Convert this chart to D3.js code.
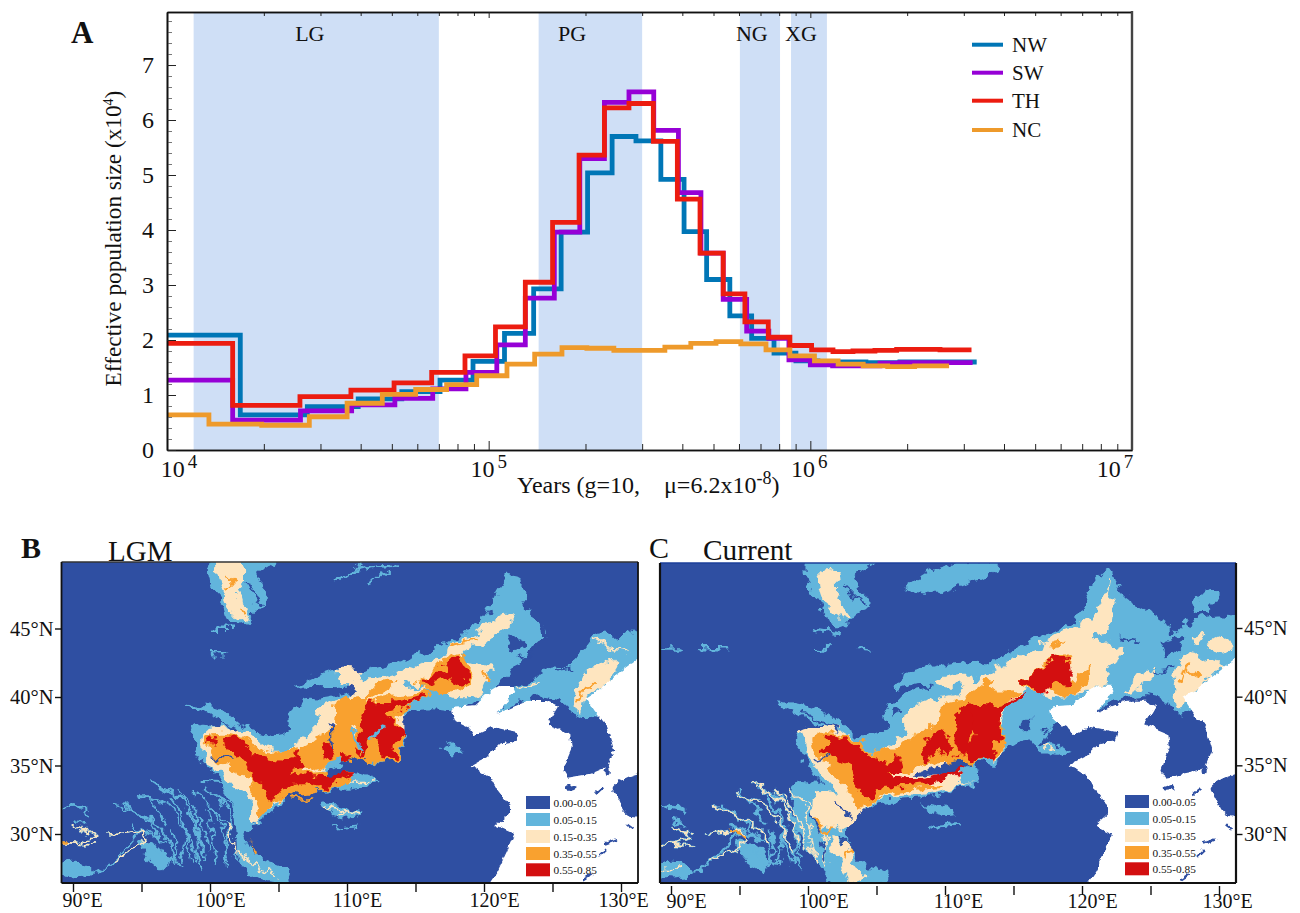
<!DOCTYPE html>
<html><head><meta charset="utf-8">
<script src="https://cdnjs.cloudflare.com/ajax/libs/d3/7.8.5/d3.min.js"></script>
<style>html,body{margin:0;background:#fff}svg{display:block}text{font-family:"Liberation Serif",serif;fill:#111}</style>
</head><body><svg id="c" width="1300" height="913"></svg>
<script>
// ---------- Panel A data (years in thousands, Ne in x10^4) ----------
const seriesNames=["NW","SW","TH","NC"];
const seriesColors=["#0076b6","#9600d6","#ec1c10","#ee9a2b"];
const nwYears=[10,16.9,27.3,39.3,53.7,70.6,89.4,112,138,168,203,242,287,343,405,476,562,657,771,902,1056,1245,1489,1899,3290];
const nwNe=[2.09,.64,.79,.93,1.06,1.27,1.61,2.12,2.93,3.96,5.04,5.70,5.62,4.92,3.97,3.10,2.44,2.03,1.76,1.62,1.60,1.60,1.59,1.60,1.60];
const swYears=[10,16,26,37.5,51.1,67,85,106,130,160,192,229,273,326,389,457,536,634,743,858,1000,1173,1396,1646,1899,3195];
const swNe=[1.27,.545,.71,.82,.94,1.11,1.41,1.91,2.76,3.96,5.30,6.32,6.51,5.81,4.68,3.58,2.74,2.16,2.03,1.64,1.55,1.53,1.53,1.58,1.59,1.59];
const thYears=[10,16,25.9,37.3,50.8,66.5,84.4,105,130,158,191,229,273,325,386,454,536,626,740,864,1009,1176,1357,1588,1855,2530,3170];
const thNe=[1.94,.81,.97,1.09,1.22,1.41,1.71,2.24,3.05,4.14,5.36,6.22,6.30,5.61,4.56,3.58,2.84,2.33,2.05,1.90,1.82,1.79,1.80,1.81,1.83,1.82,1.82];
const ncYears=[10,13.5,19.7,27.7,36.3,46.7,59.3,74,91.8,114,139,169,202,245,299,353,425,509,608,728,864,1030,1220,1460,1740,2110,2700];
const ncNe=[.64,.47,.45,.605,.85,1.01,1.10,1.19,1.35,1.56,1.745,1.86,1.85,1.81,1.81,1.87,1.94,1.97,1.93,1.82,1.71,1.62,1.56,1.53,1.515,1.53,1.53];
const bandNames=["LG","PG","NG","XG"];
const bandStart=[12.1,143,604,871];
const bandEnd=[70,300,805,1126];
const bandLabelYears=[27.8,181.6,658,935];

// ---------- Map data: suitability zones as lon,lat rings ----------
const classLabels=["0.00-0.05","0.05-0.15","0.15-0.35","0.35-0.55","0.55-0.85"];
const classColors=["#2f4fa2","#62b5dc","#fee5bf","#f9a12f","#d30f10"];
const seaRing="117.6,39 117.9,39.3 119.3,39.4 120.2,40.2 121.2,40.8 122.1,40.8 122.3,40.4 121.6,39.5 121,38.8 122.2,39.3 123.2,39.7 124.6,39.7 125.4,39.3 125.1,38.8 124.6,38 125.6,37.6 126.3,37.3 126.4,36.3 126.1,35.6 125.8,34.6 126.1,34.1 127.8,34.4 129,34.9 129.5,36.1 129,37.8 128,39 127.4,39.9 128.3,40.5 129.7,41.6 131.8,43.2 131.8,25.8 120,25.8 121,27.3 121.7,28.8 122.2,30 120.9,30.6 121.9,31.5 121.9,32 121,33.2 120.5,34.1 119.1,35 120.2,35.6 121.2,36.6 122.4,36.8 122.6,37.4 121.2,37.7 120.5,37.8 119.3,37.2 118.9,37.8 117.8,38.3";
const japanRings=["131.8,34.4 129.4,33.4 129.7,32.7 130.5,31.4 131.8,31.5","126,33.4 126.7,33.55 126.7,33.25 126,33.2","128.8,34.6 129,35 129.1,34.5 128.9,34.3"];
const islandLines=["128.1,32.9 128.7,33.4","128.9,29.3 129.7,29.6","128.4,28.4 128.9,28.9","127.2,26.6 127.8,27","130.5,30.7 130.9,30.4"];
const lgmLight=[
"98.2,39.5 99.8,39.3 101.2,38.9 102.4,37.9 104.1,37.3 105.6,37.4 105.7,38.6 106.4,39.4 106.9,39.9 108.3,39.9 109.7,40.2 110.9,40.4 109.2,40.7 107.5,40.8 106.2,40.7 107.5,41.4 109.2,42 111,41.9 112.7,42.3 114.4,42.8 116,43.4 117.6,44.2 119.3,45.1 120.2,46.1 120.9,47.7 121.8,48.8 122.8,48.6 122.9,46.9 123.9,45.6 124.3,44.3 123.4,43.4 122.4,42.4 121.9,41.6 121.3,41 120.2,40 117.8,39 116.1,39.1 114.3,38.8 113.8,38 114.2,37.1 113.8,35.6 112.5,35.2 111.5,35.1 110.5,35.9 109.5,35.5 110.7,34.1 108.8,33.3 105.8,32.9 104.6,31.7 103.6,31 102.7,30.4 102.3,29.8 103,28.8 103.9,28.2 105.8,27.3 105.6,26.6 104.1,26.5 102.7,27.3 102.1,28.1 101.9,29.8 101.7,31.7 101.2,32.9 100.5,34.4 99.8,34.9 99,35.9 98.7,37.2 99.3,37.8 100.7,37.8 100.5,38.5 99.3,39",
"99.9,49.9 104.7,49.9 103.6,48.9 104.3,47.2 103.4,46.4 103,45.8 102.1,45.3 101.3,45.7 101,46.8 100.1,47.9 99.9,48.7",
"121,38.8 122.2,40.6 123.6,41.2 124.6,42.1 126.1,42.2 127.4,43.6 128.3,44.6 129.7,44.4 131.8,44.9 131.8,42.4 129,38.5 127.1,38.6 125.4,39.7 123.2,39.9",
"117,36.3 117.8,36.6 118.5,36.1 117.8,35.9",
"108.2,32.2 109.3,32.1 110.7,31.5 109.7,31.4 108.5,31.9",
"109.5,34.1 111,34.4 112.3,33.7 111,33.4 109.5,33.3",
"109.5,31.7 110.9,31.5 110.5,31.2 109.5,31.2",
"94.8,29.5 96.1,29.2 97.1,27.8 96.4,27.5 95.1,28.6",
"89.1,27.8 91,27.8 91.5,27.1 89.1,27"];
const lgmCream=[
"99.3,36.9 99.9,37.6 101,37.7 102.2,37.6 103.6,36.8 104.6,36.1 105.8,36.3 106.7,36.9 107.8,37.9 107.7,38.9 108.5,39.5 110,40.1 110.3,41 112,41.3 113.7,41.8 115.4,42.4 117.1,42.9 117.4,43.8 119.3,44.5 120.2,45.2 121.3,46.1 122.1,45.7 121.3,44.9 120.2,44 118.8,43.4 118.3,43 119.8,42.5 120.6,42.3 120.2,41.2 119.5,40.1 117.6,40 116.1,40.8 115.4,40 113.9,39.1 114,38.8 114,36.8 113.7,35.5 112.2,35.3 111.5,35.1 110.8,36.1 109.5,35.6 108,34.5 110.3,34 108.5,33.4 105.8,32.9 104.9,32.3 103.9,31.5 102.9,30.7 102.9,32.7 101.8,33.3 100.7,34.6 99.8,35.1 99.4,36.3",
"100.6,49 100.6,49.9 102.2,49.9 102.3,48 101.9,47.5 102.8,46.7 103,46.1 102.3,45.6 101.6,46.3 101.1,47.3",
"126.6,40.5 127.2,41.3 128.5,42.7 129.7,42.3 129,41.1 127.4,39.7 127.2,38.8 126.6,39.3",
"109.4,42.1 110.8,42 110.9,41.2 109.6,41"];
const lgmOrange=[
"99.5,37.1 100.5,37.3 101.9,37.2 103.6,36.3 104.6,36 105.8,36.3 106.6,35.6 106.8,34.6 110.2,34.6 110.3,34 108.5,33.3 106.1,32.9 104.6,32.2 103.9,31.5 103.2,32.9 102.7,34.1 100.5,35.4 100,36.3",
"106.3,35.6 107.3,36.7 109.2,37.8 109.9,37.3 110.8,36.9 110.9,35.2 109.5,35.4 107.5,34.6",
"109.5,39.6 110.9,40 110.9,37.8 110,38.3",
"109.5,39.9 111,40 112.7,41.1 113.6,41.1 112.9,40.4 111.6,39.9 111,38.8 110.3,38 110.8,36.1 109.5,35.6",
"111.1,39.3 112.2,39.9 114.2,40.2 116,40.4 114.3,39.1 113.7,38.4 114.1,36.9 113.7,35.5 112.2,35.2 111.5,35.1 110.6,36.1 110.8,38",
"115.1,41 116.1,41.8 117.1,42.7 118.5,43.1 119.1,41.9 118.6,40.8 117.3,40.2 116.1,40.5"];
const lgmRed=[
"99.8,37.1 100.5,36.9 100.2,36.6 99.9,36.7",
"101.1,36.9 101.9,37.1 102.7,36.5 103.4,35.8 104.9,35.4 106,35.4 106.3,35.9 106.7,34.8 106,34.5 107.2,34.3 110.5,34.4 109.5,34 108.3,33.4 106.6,33.7 105.6,33.4 104.6,32.5 103.9,33.1 102.9,34.1 102.7,35.1 101.7,36 101,36.3",
"111.1,38.8 111.6,39.6 112.7,39.7 113.8,39.7 115.7,40.2 114.2,39.2 112.8,38.8 113.2,38.3 113.9,37.8 114.1,37.2 113.4,36.3 113.6,35.6 112.6,35.6 112.4,36.6 111.7,36.9 111.2,35.7 111,36.1",
"115.4,41.2 116.1,41.6 117.4,42.4 118.1,43 118.3,42.3 118.9,41.6 118.4,41 117.3,41.3 116.6,41 116,40.8",
"108.3,36.6 109.1,36.3 108.6,35.1",
"109.6,35.9 110.2,35.7 109.7,35.4",
"110.6,36.3 110.9,36.2 110.9,35.7",
"109.5,35.9 110.3,35.6 109.5,35.4"];
const lgmDark=[
"108.3,34.6 109.5,34.9 110.6,35.4 111.3,35.6 111.5,35.1 110.9,34.7 109.7,34.4 108.5,34.2",
"121.7,44.4 122.9,43.9 122.2,43.4",
"109.5,40.6 110.6,40.6 110.6,40.4 109.5,40.4"];
const mongoliaSmall=["100.2,44.9 101.6,44.9","100.1,43.2 101.1,43.2","109.1,48.3 110,49 110.9,49.6","110.1,49.1 112,49.5 113.7,49.6","111.5,48.4 113.2,49.2"];
const swStreaks=["94.9,32.9 96.4,32.4 97.4,31.7 98.2,30.3 98.9,28.8 99.4,27.6","95.9,33.8 97.3,32.9 98.4,32 98.9,30.7 99.3,29.5 99.5,28.2","93.2,32 94.6,31.5 96,30.7 97.1,29.5 97.4,28.2","98.8,33.2 100,32.1 100.7,30.9 101.1,29.5 101.5,27.9","92.7,30 94.9,30.3 95.6,29.6 94.6,28.9 92.9,28 91.7,27.2","89.3,27.8 90.8,27.5 91.5,27.1","94.9,29 96.1,28.7 96.8,27.5","90.1,30.6 91.5,29.9 90.4,29.3","89.2,29.3 91.7,29.2","99.3,33.8 101.2,33.7 102.2,32.7","100.2,32 101.2,30.7 101.7,29.5 101.9,28.1","97.6,33.2 98.8,32 99.5,30.7 100,28.8","89.3,32 90.5,32.1 91.2,31.5","98.3,30.3 97.8,28.1",
"95.1,33 96.1,32 96.8,30.7","96.4,33.4 97.8,32.7 99,31 99.5,29","93.7,32.1 95.4,31 96.4,29.5","97.1,32.7 98.1,31.2 98.3,29.3 98.7,27.8","99.8,31.7 100.2,29.8 100.5,27.8","98.8,31.5 99.3,30.3 98.9,27.8","100.7,32.7 101.5,31.2 101.2,29 101.3,27.6","99.5,33.4 100.5,32.9 101.7,32","92.7,27.8 93.7,28.8 94.9,30.2","90.5,27.8 91.2,27.5 89.8,27.3","96.4,29 97.1,28 98,27.8","97.3,30.3 97.6,28.8 97.1,27.6","94.4,30.7 95.6,30 96.8,29.5","90,32.1 90.8,31.9","90.1,31 90.8,30.7","102.7,27.8 103.4,26.9 104.6,26.6","109,30.5 110.9,30.7"];
const lgmCreamLines=["92.7,30 94.9,30.3 95.6,29.6 94.6,28.9 92.9,28","89.2,29.3 91.7,29.2","90.1,30.6 91.5,29.9 90.4,29.3","101.2,30.7 101.9,28.8 103.6,27.6 104.8,26.9","108.5,32 110.6,31.5","109.8,33.9 112,33.8","122.4,40.6 124.1,41.1","128,44.2 129,43.6 130.5,43.4","109.5,31.5 110.6,31.4","110.9,38.4 112.4,38.6 113.2,38.1","111.4,38.3 111.7,37.4","116.4,41.6 117.6,41.9"];
const lgmOrangeLines=["101.1,48 101.7,48.5 101.2,49","102.2,46.3 102.7,46.1","117.6,43.8 119.3,44.2","106,32.6 107.4,32.6","102.7,29.5 103.4,28.6","126.8,39.7 127.3,40.5 127.8,40.8","89.1,29.3 89.5,29.3","120.1,41.9 120.3,41.2"];
const lgmDarkLines=["102.6,48.5 103.7,46.9","99.6,38.9 102,37.6","100.1,35.6 101.5,35.5","125.2,41.9 126.6,42.1","103.4,28.8 102.4,29.8","108.8,38.2 108.9,36.4","122.6,42.9 123.6,43.2"];
const lgmLightLines=["111.6,36.9 112.8,37.8","110.3,37.8 111.1,36.1","114.2,40.7 115.4,40.8"];

const curLight=[
"97.7,39.7 99.2,39.5 101.1,38.9 102.6,38 103.3,37.2 105,37.3 105.9,37.8 105.5,38.9 106.2,39.4 107,40.2 109.1,40.8 107.7,40.9 106.2,40.5 107.2,41.6 109.1,42.2 111.6,42.5 113.3,42.4 115,43.4 117.4,44.5 119.5,45.6 120.2,46.8 120.8,48.3 122,49.4 123,47.4 124.7,46.3 126.3,45.2 126.5,44.4 127.9,45.5 129.6,45.9 131.8,45.5 131.8,42.8 128.1,39.3 127.3,38.7 125.7,39.9 122.5,39.8 121.6,39.3 119.6,38.1 117.7,37.8 116.9,36.4 119.1,35.9 116.9,36.1 116,37.1 114.1,35.7 113.8,35.1 112.1,35.1 112.6,33.8 111.1,33.4 108.7,32.7 106,32.4 104.3,32 102.8,30.5 103.1,29 104,27.8 106,27.3 105.5,26.5 102.3,26.2 101.1,27.3 100.1,28.8 99.2,30.7 98.9,32.7 99.4,33.9 100.9,33.7 99.9,35.1 99.4,36.1 98.9,36.9 99.9,37.8 101.1,37.8 100.1,38.3 98.9,39",
"100,49.9 104.9,49.9 103.3,48.5 104.5,46.9 103.1,45.8 102.3,45.2 101.4,45.5 100.9,46.7 100.1,47.9",
"108.2,48.7 109.6,49.4 111.8,49.9 114,49.7 112.5,48.5 111.3,48.2 109.4,47.5 107.2,47.9",
"128.1,46.3 129,47.6 129.8,47.6 129.3,46.3",
"117,36.3 117.8,36.6 118.9,35.9 117.8,35.8",
"108.2,32.2 109.3,32.1 110.7,31.5 109.7,31.4 108.5,31.9",
"94.8,29.5 96.1,29.2 97.1,27.8 96.4,27.5 95.1,28.6",
"89.1,27.8 91,27.8 91.5,27.1 89.1,27"];
const curCream=[
"99.4,37.6 101.6,37.8 103.1,37.1 104.5,35.9 105.5,36.2 107,37.6 107.2,39 108.7,39.7 110.9,40.2 111.1,40.7 112.6,41.4 114.3,42.4 117,43.7 117.9,44.4 120.1,45.4 121.3,46.6 121.8,47.5 122.3,46.6 122,45 121,44.3 123,43.2 122,42.3 121.8,41.2 121.1,40.7 119.4,40 117.9,40 116.4,40.5 115.7,40.3 114.3,38.8 114.3,36.4 114.1,35.7 112.1,35.3 111.1,34.9 111.1,33.7 112.3,33.8 111.1,33.5 108.7,32.9 106,32.7 104.5,32.2 103.1,30.7 102.3,30.3 102.1,33.2 101.4,33.7 100.6,34.9 99.9,35.4 99.8,36.6",
"100.9,48.9 101.9,49.2 102.2,47.8 102.1,46.9 103.1,46.1 102.3,45.7 101.4,46.6 100.9,47.8",
"126.7,40 127.6,43.2 129.6,42.4 130.3,42.3 128.9,41 127.4,39.5 126.9,39.3",
"123,40.3 124,41.4 125.5,42.1 124.7,41 123.5,40.3",
"128,44.3 128.9,44.6 128.7,44 128.1,43.9",
"129.1,43.8 130.1,44.5 131,43.7 130.1,43.2",
"101.6,29.8 102.8,29.3 103.6,27.3 104.3,26.9 103.1,26.5 102.3,27.8",
"100.4,32.7 102.3,32.9 103.1,31.7 101.6,30.3 100.6,30.7",
"109.4,41.2 111.8,41.6 111.8,41 109.6,40.9"];
const curOrange=[
"100.4,37.1 101.6,37.4 103.6,36.8 104.5,35.9 105.6,36.2 106.6,36.3 107.7,37.3 109.1,37.8 109.9,39.5 111.8,40 112.3,40.6 113.4,41.3 113.5,40.5 115.5,40.3 113.8,39 114.3,37.6 114.1,35.9 111.8,35.1 111.1,34.9 110.4,35.2 108.7,35.1 107.2,34.5 106.5,34.6 106.2,34.1 109.9,33.4 107.9,33.2 106,32.9 104.8,32.4 103.6,32 103.1,32.9 102.1,34.1 100.9,35.6 100.4,36.3",
"115.5,40.9 117.4,42.4 118.2,43.2 119,42.9 119.1,41.2 120.6,42.2 120.7,41.7 119.6,40.1 118.6,40 117.7,40.4 116.4,40.5"];
const curRed=[
"101.2,37.1 102.3,37.2 103.6,36.2 105,35.5 106.1,35.1 106.4,35.9 106.8,34.6 106.1,34.5 107.7,34 109.6,34.4 111.6,35.1 109.9,33.9 107.9,33.5 106.2,33.4 105.3,33.4 104.5,32.6 103.3,33.7 102.8,35.1 101.1,36 101.6,36.6",
"108.3,35.6 109,37.1 110,37.4 110.2,35.6 109.5,36.1 109.1,35.6 108.7,35.2",
"111.1,39.3 112.6,39.4 113.8,39.4 116,40.2 114.3,38.9 114,38.3 114.2,37.1 113.6,36.1 113.6,35.6 111.8,35.4 111.7,36.1 112.3,37.1 111.8,37.5 111.3,36.6 111.1,36.1",
"110.9,38.3 111.1,39.3 111.8,39.5 111.8,36.1 110.9,35.6 110.7,36.9",
"115.5,40.9 116.3,41.6 117.5,42.3 118,43.1 118.8,42.9 119.1,41.6 118.9,40.7 117.9,41 117.2,40.3 116.2,40.7"];
const curDark=[
"107.9,34.2 109.4,34.9 111.3,35.4 111.8,35.1 110.4,34.6 109.1,34.3",
"115.5,38.1 116.2,38.3 116.1,37.7 115.5,37.7",
"125.7,43.8 127.6,44.3 126.7,43.2 126.1,42.8",
"106.2,38.9 106.8,39.1 106.2,38.3"];
const curSmall=["100.5,44.9 102.3,44.6","100.6,43.3 101.6,43.6","103.8,43.6 104.3,43.5","89.3,43.5 90.7,43.5","92.1,43.6 94.3,43.6"];
const curCreamLines=["94.9,32.9 96.4,32.4 97.4,31.7 98.2,30.3 98.9,28.8","95.9,33.8 97.3,32.9 98.4,32 98.9,30.7 99.3,29.5","93.2,32 94.6,31.5 96,30.7 97.1,29.5","98.8,33.2 100,32.1 100.7,30.9 101.1,29.5 101.5,27.9","92.7,30 94.9,30.3 95.6,29.6 94.6,28.9 92.9,28","89.2,29.3 91.7,29.2","90.1,30.6 91.5,29.9 90.4,29.3","97.6,33.2 98.8,32 99.5,30.7 100,28.8","89.3,27.6 90.8,27.5","117.2,36.5 118.1,36.1","121.7,46.8 121.9,48.5","99.8,31.7 100.2,29.8 100.5,27.8","100.7,32.7 101.5,31.2 101.2,29 101.3,27.6"];
const curOrangeLines=["100.6,31.2 101.1,29.8 101.8,30.5","103.1,29 102.6,28.1","127.2,41 127.6,42.2 128.6,41.5","94.4,30.3 95.4,29.8","117.7,43.8 118.6,44"];
const curDarkLines=["102.8,48 104,46.8","99.6,38.9 102,37.6","100.6,35.3 101.5,35.6","125.2,41.9 126.6,42.1","103.4,28.8 102.4,29.8","100.3,31.4 100.9,30.2","102.2,32.4 102.9,31.4","101,29.3 101.4,28.2","122.9,44.3 124,44.1"];
const lonTicks=[90,95,100,105,110,115,120,125,130];
const latTicks=[45,40,35,30];

// ---------- helpers ----------
const svg=d3.select("#c");
const parse=s=>s.trim().split(/\s+/).map(p=>p.split(",").map(Number));

// ---------- Panel A ----------
const xA=d3.scaleLog().domain([1e4,1e7]).range([167,1132]);
const yA=d3.scaleLinear().domain([0,7.964]).range([450,12]);
const A=svg.append("g");
A.append("clipPath").attr("id","clipA").append("rect").attr("x",167).attr("y",12).attr("width",965).attr("height",438);
A.selectAll("rect.band").data(bandNames).join("rect").attr("class","band")
 .attr("x",(d,i)=>xA(bandStart[i]*1e3)).attr("width",(d,i)=>xA(bandEnd[i]*1e3)-xA(bandStart[i]*1e3))
 .attr("y",yA.range()[1]).attr("height",438).attr("fill","#cfdff6");
A.selectAll("text.bl").data(bandNames).join("text").attr("class","bl").text(d=>d)
 .attr("x",(d,i)=>xA(bandLabelYears[i]*1e3)).attr("y",41).attr("text-anchor","middle").attr("font-size",22);
const stepLine=d3.line().x(d=>xA(d[0]*1e3)).y(d=>yA(d[1])).curve(d3.curveStepAfter);
[[nwYears,nwNe],[swYears,swNe],[thYears,thNe],[ncYears,ncNe]].forEach(([ys,ne],i)=>{
  A.append("path").attr("clip-path","url(#clipA)").attr("d",stepLine(ys.map((y,k)=>[y,ne[k]])))
   .attr("fill","none").attr("stroke",seriesColors[i]).attr("stroke-width",4.8).attr("stroke-linejoin","miter");
});
// axes
const minorX=[];for(const e of [1e4,1e5,1e6])for(let k=2;k<10;k++)minorX.push(k*e);
const majorX=[1e4,1e5,1e6,1e7];
const minorY=d3.range(0,7.96,0.2);
const axStyle=g=>{g.selectAll(".domain").attr("stroke","#111").attr("stroke-width",1.6);g.selectAll("line").attr("stroke","#222");g.selectAll("text").remove();};
A.append("g").attr("transform","translate(0,450)").call(d3.axisBottom(xA).tickValues(minorX).tickSize(-6).tickSizeOuter(0)).call(axStyle);
A.append("g").attr("transform","translate(0,450)").call(d3.axisBottom(xA).tickValues(majorX).tickSize(-9).tickSizeOuter(0)).call(axStyle);
A.append("g").attr("transform","translate(0,12)").call(d3.axisTop(xA).tickValues(minorX).tickSize(-4).tickSizeOuter(0)).call(axStyle);
A.append("g").attr("transform","translate(0,12)").call(d3.axisTop(xA).tickValues(majorX).tickSize(-6).tickSizeOuter(0)).call(axStyle);
A.append("g").attr("transform","translate(167,0)").call(d3.axisLeft(yA).tickValues(minorY).tickSize(-5).tickSizeOuter(0)).call(axStyle).selectAll("line").attr("stroke","#777");
A.append("g").attr("transform","translate(167,0)").call(d3.axisLeft(yA).tickValues(d3.range(0,8)).tickSize(-9).tickSizeOuter(0)).call(axStyle);
A.append("line").attr("x1",1132).attr("x2",1132).attr("y1",11).attr("y2",450).attr("stroke","#444").attr("stroke-width",2.4);
A.selectAll("text.yt").data(d3.range(0,8)).join("text").attr("class","yt").text(d=>d)
 .attr("x",154).attr("y",d=>yA(d)+8).attr("text-anchor","end").attr("font-size",24);
const expOffset={4:12,5:0,6:-1,7:-17};
[4,5,6,7].forEach(e=>{
  const t=A.append("text").attr("x",xA(10**e)+expOffset[e]).attr("y",476.5).attr("text-anchor","middle").attr("font-size",24);
  t.append("tspan").text("10");
  t.append("tspan").text(e).attr("dx",3).attr("dy",-9).attr("font-size",19);
});
const xl=A.append("text").attr("y",493).attr("font-size",24);
xl.append("tspan").attr("x",517).text("Years (g=10,");
xl.append("tspan").attr("x",664).text("μ=6.2x10");
xl.append("tspan").text("-8").attr("dy",-9).attr("font-size",18);
xl.append("tspan").text(")").attr("dy",9);
const yl=A.append("text").attr("transform","translate(121,238.5) rotate(-90)").attr("text-anchor","middle").attr("font-size",23.3);
yl.append("tspan").text("Effective population size (x10");
yl.append("tspan").text("4").attr("dy",-8).attr("font-size",14);
yl.append("tspan").text(")").attr("dy",8);
[44.7,72.7,100.7,130].forEach((y,i)=>{
  A.append("line").attr("x1",972).attr("x2",1003).attr("y1",y).attr("y2",y).attr("stroke",seriesColors[i]).attr("stroke-width",4);
  A.append("text").text(seriesNames[i]).attr("x",1012).attr("y",y+7).attr("font-size",21);
});
svg.append("text").text("A").attr("x",71).attr("y",43).attr("font-size",31).attr("font-weight","bold");
svg.append("text").text("B").attr("x",21).attr("y",558).attr("font-size",30).attr("font-weight","bold");
svg.append("text").text("C").attr("x",649).attr("y",558).attr("font-size",30);
svg.append("text").text("LGM").attr("x",108).attr("y",560.5).attr("font-size",29);
svg.append("text").text("Current").attr("x",703).attr("y",560).attr("font-size",29.3);

// ---------- Maps ----------
const defs=svg.append("defs");
function roughFilter(id,freq,scale,seed,f){
  const fl=defs.append("filter").attr("id",id).attr("filterUnits","userSpaceOnUse")
    .attr("x",f[0]-5).attr("y",f[1]-5).attr("width",f[2]-f[0]+10).attr("height",f[3]-f[1]+10)
    .attr("color-interpolation-filters","sRGB");
  fl.append("feTurbulence").attr("type","fractalNoise").attr("baseFrequency",freq).attr("numOctaves",3).attr("seed",seed).attr("result","n");
  fl.append("feDisplacementMap").attr("in","SourceGraphic").attr("in2","n").attr("scale",scale).attr("xChannelSelector","R").attr("yChannelSelector","G");
}
function drawMap(o){
  const lon=d3.scaleLinear().domain([90,130]).range(o.lonRange);
  const lat=d3.scaleLinear().domain([45,30]).range(o.latRange);
  const g=svg.append("g");
  const f=o.frame;
  roughFilter(o.id+"R",0.09,15,o.seed,f);
  roughFilter(o.id+"S",0.14,6,o.seed+1,f);
  g.append("clipPath").attr("id",o.id).append("rect").attr("x",f[0]).attr("y",f[1]).attr("width",f[2]-f[0]).attr("height",f[3]-f[1]);
  const root=g.append("g").attr("clip-path",`url(#${o.id})`);
  root.append("rect").attr("x",f[0]).attr("y",f[1]).attr("width",f[2]-f[0]).attr("height",f[3]-f[1]).attr("fill",classColors[0]);
  const m=root.append("g").attr("filter",`url(#${o.id}R)`);
  const ln=d3.line().x(d=>lon(d[0])).y(d=>lat(d[1]));
  const blob=d3.line().x(d=>lon(d[0])).y(d=>lat(d[1])).curve(d3.curveCatmullRomClosed.alpha(0.5));
  const ring=s=>ln(parse(s))+"Z";
  const polys=(rings,c)=>m.append("g").selectAll("path").data(rings).join("path").attr("d",s=>blob(parse(s))).attr("fill",c);
  const lines=(ls,c,w)=>m.append("g").selectAll("path").data(ls).join("path").attr("d",s=>ln(parse(s))).attr("fill","none").attr("stroke",c).attr("stroke-width",w).attr("stroke-linejoin","round").attr("stroke-linecap","round");
  polys(o.light,classColors[1]);
  lines(swStreaks,classColors[1],o.streakW);
  lines(o.small,classColors[1],2.5);
  polys(o.cream,classColors[2]);
  lines(o.creamLines,classColors[2],o.creamW);
  polys(o.orange,classColors[3]);
  lines(o.orangeLines,classColors[3],2.5);
  polys(o.red,classColors[4]);
  polys(o.dark,classColors[0]);
  lines(o.darkLines,classColors[0],2);
  lines(o.lightLines,classColors[1],3);
  const sea=root.append("g").attr("filter",`url(#${o.id}S)`);
  sea.append("path").attr("d",ring(seaRing)).attr("fill","#fff");
  sea.selectAll("path.j").data(japanRings).join("path").attr("class","j").attr("d",s=>blob(parse(s))).attr("fill",classColors[0]);
  sea.selectAll("path.i").data(islandLines).join("path").attr("class","i").attr("d",s=>ln(parse(s))).attr("fill","none").attr("stroke",classColors[0]).attr("stroke-width",2.5);
  // legend
  const rowY=o.legendY;
  classLabels.forEach((t,i)=>{
    g.append("rect").attr("x",o.legendX).attr("y",rowY[i]).attr("width",24).attr("height",13).attr("fill",classColors[i]);
    g.append("text").text(t).attr("x",o.legendX+27.5).attr("y",rowY[i]+10.5).attr("font-size",11.3);
  });
  // frame
  g.append("line").attr("x1",f[0]).attr("x2",f[2]).attr("y1",f[1]).attr("y2",f[1]).attr("stroke",o.topStroke).attr("stroke-width",1.6);
  [[f[0],f[3],f[2],f[3]],[f[0],f[1],f[0],f[3]],[f[2],f[1],f[2],f[3]]].forEach(c=>
    g.append("line").attr("x1",c[0]).attr("y1",c[1]).attr("x2",c[2]).attr("y2",c[3]).attr("stroke","#111").attr("stroke-width",o.frameW));
  // axes
  const ax=g.append("g").attr("transform",`translate(0,${f[3]+o.tickGap})`).call(d3.axisBottom(lon).tickValues(lonTicks).tickSize(9).tickSizeOuter(0).tickFormat(d=>d%10===0?d+"°E":""));
  ax.select(".domain").remove();ax.selectAll("line").attr("stroke","#111").attr("stroke-width",1.4);
  ax.selectAll("text").attr("font-size",20).attr("dx",d=>o.lonDx[d]||0).attr("fill","#111").attr("font-family","Liberation Serif").attr("y",10).attr("dy",o.lonDy);
  const yAxisFn=o.latSide==="left"?d3.axisLeft:d3.axisRight;
  const ay=g.append("g").attr("transform",`translate(${o.latSide==="left"?f[0]:f[2]},0)`).call(yAxisFn(lat).tickValues(latTicks).tickSize(6.5).tickPadding(1.5).tickSizeOuter(0).tickFormat(d=>d+"°N"));
  ay.select(".domain").remove();ay.selectAll("line").attr("stroke","#111").attr("stroke-width",1.4);
  ay.selectAll("text").attr("font-size",20.5).attr("fill","#111").attr("font-family","Liberation Serif");
}
drawMap({id:"clipB",seed:3,lonRange:[73,621],latRange:[628.5,834],frame:[61.5,562,638,883],light:lgmLight,cream:lgmCream,orange:lgmOrange,red:lgmRed,dark:lgmDark,
  small:mongoliaSmall,creamLines:lgmCreamLines,orangeLines:lgmOrangeLines,darkLines:lgmDarkLines,lightLines:lgmLightLines,streakW:1.9,creamW:1.6,
  legendX:526,legendY:[796,813,830,847,863.3],topStroke:"#333",frameW:1.8,tickGap:0,lonDx:{90:9,100:10,110:10,120:10,130:2},lonDy:14,latSide:"left"});
drawMap({id:"clipC",seed:8,lonRange:[671,1219],latRange:[628,834],frame:[660,563,1236,883],light:curLight,cream:curCream,orange:curOrange,red:curRed,dark:curDark,
  small:curSmall,creamLines:curCreamLines,orangeLines:curOrangeLines,darkLines:curDarkLines,lightLines:[],streakW:2.6,creamW:1.6,
  legendX:1125,legendY:[795,812,829,846,862.3],topStroke:"#1d3f9a",frameW:2.2,tickGap:3,lonDx:{90:15,100:15,110:13,120:10,130:8},lonDy:12,latSide:"right"});
</script></body></html>
